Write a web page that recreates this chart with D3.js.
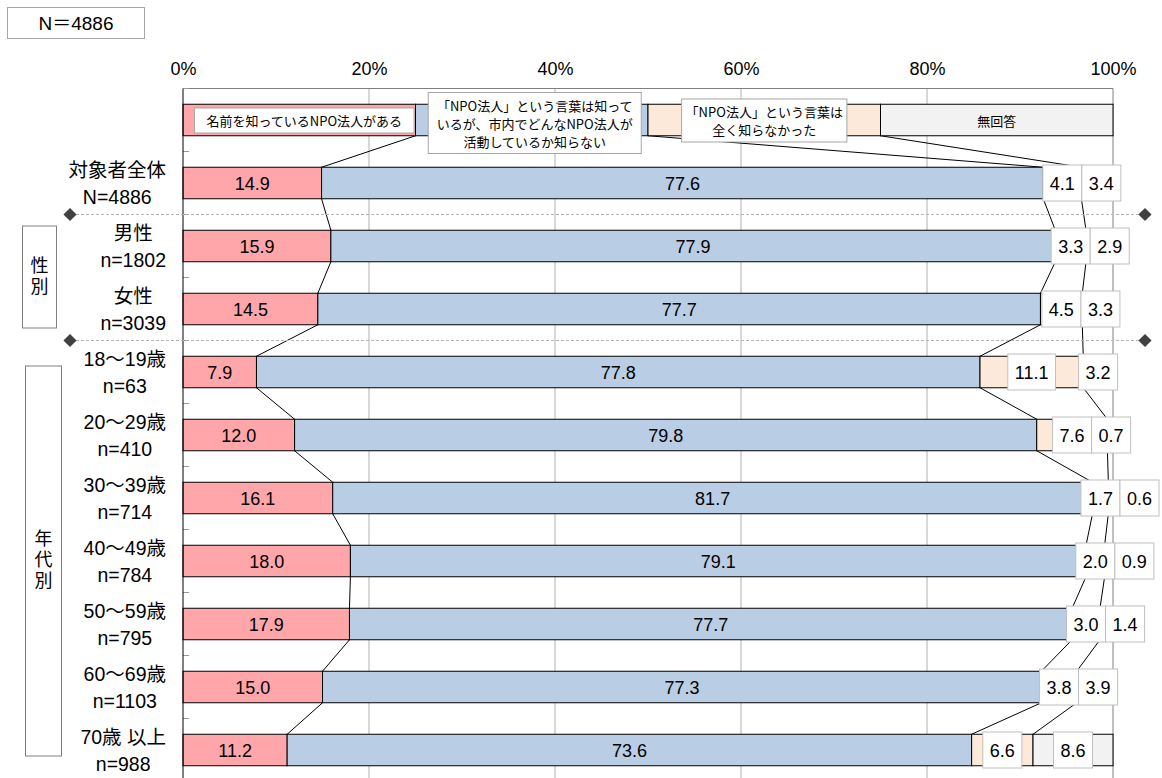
<!DOCTYPE html>
<html><head><meta charset="utf-8">
<script src="https://cdn.jsdelivr.net/npm/d3@7"></script>
<style>
html,body{margin:0;padding:0;background:#fff;}
svg{display:block;font-family:"Liberation Sans","Noto Sans CJK JP",sans-serif;}
</style></head>
<body>
<svg id="chart" width="1162" height="778"></svg>
<script>
// ---- data ----
const categories = ["対象者全体","男性","女性","18〜19歳","20〜29歳","30〜39歳","40〜49歳","50〜59歳","60〜69歳","70歳 以上"];
const sampleSizes = ["N=4886","n=1802","n=3039","n=63","n=410","n=714","n=784","n=795","n=1103","n=988"];
const knowNamed   = [14.9,15.9,14.5,7.9,12.0,16.1,18.0,17.9,15.0,11.2];
const wordOnly    = [77.6,77.9,77.7,77.8,79.8,81.7,79.1,77.7,77.3,73.6];
const neverHeard  = [4.1,3.3,4.5,11.1,7.6,1.7,2.0,3.0,3.8,6.6];
const noAnswer    = [3.4,2.9,3.3,3.2,0.7,0.6,0.9,1.4,3.9,8.6];
const seriesNames = [
  ["名前を知っているNPO法人がある"],
  ["「NPO法人」という言葉は知って","いるが、市内でどんなNPO法人が","活動しているか知らない"],
  ["「NPO法人」という言葉は","全く知らなかった"],
  ["無回答"]
];
const legendShares = [25,25,25,25];
const tickValues = [0,20,40,60,80,100];
const groupNames = ["性別","年代別"];
const groupRows = [[1,2],[3,9]];
const separatorsAfter = [0,2];
const totalLabel = "N＝4886";

const colors = ["#FFA6AA","#B9CDE5","#FDE9DA","#F2F2F2"];

// ---- layout ----
const svg = d3.select("#chart");
const X0 = 183, X1 = 1113, TOP = 88.5, STEP = 63;
const x = d3.scaleLinear().domain([0,100]).range([X0,X1]);
const rowKeys = ["legend", ...categories];
const y = d3.scaleBand().domain(rowKeys).range([TOP, TOP + STEP*rowKeys.length]).paddingInner(0.5).paddingOuter(0.25);
const bw = y.bandwidth();
const cy = k => y(k) + bw/2;

// N box
svg.append("rect").attr("x",7.5).attr("y",7.5).attr("width",137).attr("height",31)
  .attr("fill","#fff").attr("stroke","#a6a6a6");
svg.append("text").attr("x",76).attr("y",23.5).attr("text-anchor","middle").attr("dominant-baseline","central")
  .attr("font-size",19).attr("fill","#000").text(totalLabel);

// gridlines
svg.append("g").selectAll("line").data(tickValues.filter(t=>t>0)).join("line")
  .attr("x1",d=>x(d)).attr("x2",d=>x(d)).attr("y1",TOP).attr("y2",778)
  .attr("stroke",d=>d===100?"#808080":"#b0b0b0").attr("stroke-width",1);
svg.append("line").attr("x1",X0).attr("x2",X1).attr("y1",TOP).attr("y2",TOP).attr("stroke","#808080");

// top axis labels
const axis = d3.axisTop(x).tickValues(tickValues).tickFormat(d=>d+"%").tickSize(0);
const ag = svg.append("g").attr("transform",`translate(0,${TOP})`).call(axis);
ag.select(".domain").remove();
ag.selectAll("text").attr("font-size",18).attr("fill","#000").attr("y",-14)
  .attr("font-family","'Liberation Sans',sans-serif");

// left axis ticks
const bounds = d3.range(rowKeys.length+1).map(i=>TOP + STEP*i);
svg.append("g").selectAll("line").data(bounds).join("line")
  .attr("x1",X0).attr("x2",X0+6).attr("y1",d=>d).attr("y2",d=>d).attr("stroke","#999");

// series lines
const rowsCum = [];
rowsCum.push(d3.cumsum(legendShares));
categories.forEach((c,i)=>rowsCum.push(d3.cumsum([knowNamed[i],wordOnly[i],neverHeard[i],noAnswer[i]])));
const sl = svg.append("g");
for (let r=0;r<rowKeys.length-1;r++){
  for (let s=0;s<3;s++){
    sl.append("line")
      .attr("x1",x(rowsCum[r][s])).attr("y1",y(rowKeys[r])+bw)
      .attr("x2",x(rowsCum[r+1][s])).attr("y2",y(rowKeys[r+1]))
      .attr("stroke","#000").attr("stroke-width",1);
  }
}

// bars
const bars = svg.append("g");
rowKeys.forEach((k,r)=>{
  const vals = r===0 ? legendShares : [knowNamed[r-1],wordOnly[r-1],neverHeard[r-1],noAnswer[r-1]];
  let acc = 0;
  vals.forEach((v,s)=>{
    bars.append("rect").attr("x",x(acc)).attr("y",y(k)).attr("width",x(acc+v)-x(acc)).attr("height",bw)
      .attr("fill",colors[s]).attr("stroke","#000").attr("stroke-width",1);
    acc += v;
  });
});

// left axis line
svg.append("line").attr("x1",X0).attr("x2",X0).attr("y1",TOP).attr("y2",778).attr("stroke","#000");

// legend labels inside legend row
const lg = svg.append("g").attr("font-family","'Noto Sans CJK JP',sans-serif");
const legendPad = [24,17,8];
const legendShift = [5,3,0];
seriesNames.forEach((lines,s)=>{
  const start = d3.sum(legendShares.slice(0,s));
  const mid = x(start + legendShares[s]/2) + (legendShift[s]||0);
  const c = cy("legend") + (s===1?3:0.5);
  const lh = 18;
  const g = lg.append("g");
  const texts = lines.map((t,i)=>g.append("text").attr("x",mid)
    .attr("y",c + (i-(lines.length-1)/2)*lh).attr("text-anchor","middle").attr("dominant-baseline","central")
    .attr("font-size",13).attr("fill","#000").text(t));
  if (s<3){
    const w = d3.max(texts,t=>t.node().getComputedTextLength()) + legendPad[s];
    const h = lines.length*lh + 7;
    g.insert("rect","text").attr("x",mid-w/2).attr("y",c-h/2).attr("width",w).attr("height",h)
      .attr("fill","#fff").attr("stroke","#a6a6a6");
  }
});

// value labels
const vl = svg.append("g").attr("font-size",18);
categories.forEach((cat,i)=>{
  const c = cy(cat);
  const cum = rowsCum[i+1];
  [knowNamed[i],wordOnly[i]].forEach((v,s)=>{
    const start = s===0?0:cum[0];
    vl.append("text").attr("x",x(start+v/2)).attr("y",c+1).attr("text-anchor","middle")
      .attr("dominant-baseline","central").attr("fill","#000").text(v.toFixed(1));
  });
  let prevRight = -Infinity;
  [neverHeard[i],noAnswer[i]].forEach((v,k)=>{
    const s = k+2;
    const start = cum[s-1];
    const g = vl.append("g");
    const t = g.append("text").attr("y",c+1).attr("text-anchor","middle").attr("dominant-baseline","central")
      .attr("fill","#000").text(v.toFixed(1));
    const w = t.node().getComputedTextLength() + 14;
    let cx = x(start+v/2);
    if (cx - w/2 < prevRight) cx = prevRight + w/2;
    t.attr("x",cx);
    g.insert("rect","text").attr("x",cx-w/2).attr("y",c-18).attr("width",w).attr("height",36)
      .attr("fill","#fff").attr("stroke","#c0c0c0");
    prevRight = cx + w/2;
  });
});

// category labels (block right-aligned, lines centered)
const cl = svg.append("g").attr("font-size",19.5);
categories.forEach((cat,i)=>{
  const c = cy(cat);
  const t1 = cl.append("text").attr("y",c-13).attr("text-anchor","middle").attr("dominant-baseline","central").attr("fill","#000").text(cat);
  const t2 = cl.append("text").attr("y",c+14).attr("text-anchor","middle").attr("dominant-baseline","central").attr("fill","#000").text(sampleSizes[i]);
  const w = Math.max(t1.node().getComputedTextLength(), t2.node().getComputedTextLength());
  const mid = 166 - w/2;
  t1.attr("x",mid); t2.attr("x",mid);
});

// separators
const sep = svg.append("g");
separatorsAfter.forEach(r=>{
  const yy = y(categories[r]) + bw + (STEP-bw)/2;
  sep.append("line").attr("x1",76).attr("x2",1140).attr("y1",yy).attr("y2",yy)
    .attr("stroke","#b5b5b5").attr("stroke-dasharray","3,2");
  [70,1145].forEach(px=>{
    sep.append("path").attr("d",d3.symbol(d3.symbolDiamond2,110)()).attr("transform",`translate(${px},${yy})`)
      .attr("fill","#404040");
  });
});

// group boxes
const gb = svg.append("g");
groupNames.forEach((name,gi)=>{
  const [a,b] = groupRows[gi];
  const top = gi===0 ? cy(categories[a])-20 : cy(categories[a])-6;
  const bot = gi===0 ? cy(categories[b])+19 : cy(categories[b])+6;
  const left = gi===0 ? 22.5 : 25.5;
  const wdt = gi===0 ? 34 : 36;
  gb.append("rect").attr("x",left).attr("y",top).attr("width",wdt).attr("height",bot-top)
    .attr("fill","#fff").attr("stroke","#808080");
  gb.append("text").attr("x",left+wdt/2).attr("y",(top+bot)/2)
    .attr("writing-mode","vertical-rl").attr("text-anchor","middle")
    .attr("font-family","'Noto Sans CJK JP',sans-serif")
    .attr("letter-spacing",3).attr("font-size",18).attr("fill","#000").text(name);
});
</script>
</body></html>
